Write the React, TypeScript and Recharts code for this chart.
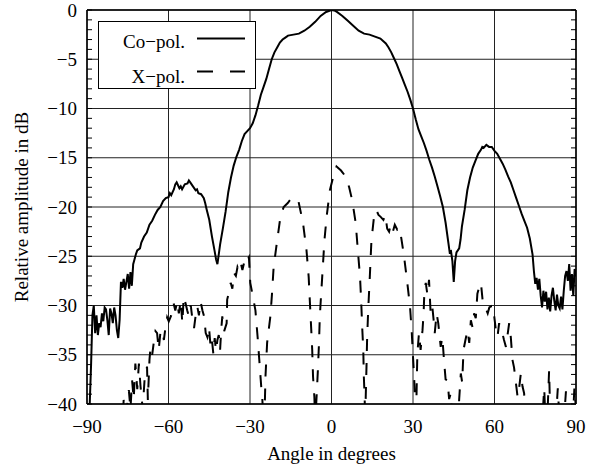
import React from 'react';
import { LineChart, Line, XAxis, YAxis, CartesianGrid, Legend } from 'recharts';

// Co-polar pattern (angle in degrees, relative amplitude in dB)
const coAngles = [
  -90, -89, -88.5, -88, -87.5, -87, -86.5, -86, -85.5, -85, -84.5, -84, -83.5, -83, -82.5, -82,
  -81.5, -81, -80.5, -80, -79.5, -79, -78.5, -78, -77.5, -77, -76.5, -76, -75.5, -75, -74.5, -74,
  -73.5, -73, -72.5, -72, -71.5, -70.5, -70, -69, -68, -67, -66, -65, -64, -63, -62, -61, -60,
  -59.5, -59, -58, -57.5, -57, -56, -55.5, -55, -54, -53, -52.5, -52, -51, -50, -49.5, -49, -48,
  -47, -46.5, -46, -45, -44, -43, -42.5, -42, -41.5, -41, -40, -39, -38.5, -38, -37, -36, -35,
  -34, -33, -32, -31, -30, -29, -28, -27, -26, -25, -24, -23, -22, -21, -20, -19, -18, -17, -16,
  -14, -12, -10, -8, -6, -4, -2, 0, 1, 2, 4, 6, 8, 10, 12, 14, 16, 18, 20, 21, 22, 23, 24, 25, 26,
  27, 28, 29, 30, 31, 32, 33, 34, 35, 36, 37, 38, 39, 40, 41, 42, 43, 43.5, 44, 44.5, 45, 45.5,
  46, 47, 47.5, 48, 49, 50, 51, 52, 53, 54, 55, 55.5, 56, 57, 58, 59, 60, 61, 62, 63, 64, 65, 66,
  67, 68, 69, 70, 71, 72, 73, 74, 74.5, 75, 75.5, 76, 76.5, 77, 77.5, 78, 78.5, 79, 79.5, 80, 80.5,
  81, 81.5, 82, 82.5, 83, 83.5, 84, 84.5, 85, 85.5, 86, 86.5, 87, 87.5, 88, 88.5, 89, 89.5, 90,
];
const coDb = [
  -40, -40, -36, -31, -30, -32.8, -31, -33, -31.8, -32.2, -30.8, -31.6, -30.2, -30.4, -31.5, -33,
  -30.3, -30.8, -31.8, -30.2, -31, -32.5, -33.3, -31.5, -27.6, -28.2, -27.3, -28.4, -27.6, -26.8, -28.3, -26.6,
  -28, -25.8, -25.3, -24.8, -24.4, -24.2, -23.6, -23, -22.6, -21.8, -21.4, -20.8, -20.3, -20, -19.4, -19.1, -19,
  -18.6, -18.8, -18.2, -17.7, -17.5, -18.1, -17.9, -18.2, -17.7, -17.6, -17.3, -17.5, -17.9, -18.3, -18.2, -18.6, -18.7,
  -19.1, -19.6, -20.2, -21.3, -23, -24.5, -25.3, -25.8, -24.8, -23.8, -22.2, -20.5, -19.5, -18.5, -17, -15.8, -14.9,
  -14.2, -13.3, -12.6, -12.3, -12, -11.5, -10.7, -9.7, -8.6, -7.8, -7, -6, -5, -4.3, -3.8, -3.3, -3, -2.8, -2.6,
  -2.5, -2.4, -2.1, -1.7, -1.2, -0.6, -0.2, 0, -0.05, -0.2, -0.6, -1.1, -1.6, -2.1, -2.4, -2.5, -2.7, -2.9, -3.4, -3.8, -4.3, -4.9, -5.5, -6.2, -6.9,
  -7.6, -8.3, -9.1, -10, -11.1, -12.1, -12.8, -13.5, -14.3, -15.2, -16, -16.9, -17.9, -18.9, -20, -21.6, -23.6, -24.6, -24.5, -25.5, -27.6, -25.5,
  -24.6, -24.2, -23.3, -22, -20.3, -18.3, -17, -16, -15.3, -14.6, -14.2, -13.9, -14, -13.7, -13.9, -13.9, -14.3, -14.6, -15.1, -15.6, -16.2, -16.9, -17.5,
  -18.3, -19.1, -19.9, -20.7, -21.4, -22.1, -23.2, -24.8, -26.5, -27.8, -27.2, -28.4, -27.3, -29, -30.2, -28.5, -29.6, -28.6, -30.4, -29.2, -30.6,
  -29, -28.2, -29.5, -30.5, -28.9, -30, -30.3, -29.1, -30.4, -28.5, -27, -26.5, -27.5, -25.8, -28.5, -26.8, -29, -26.3, -27,
];

// Cross-polar pattern (values under -40 dB fall off the plot)
const xAngles = [
  -90, -77, -76.5, -75.5, -74.6, -74, -73.4, -72.8, -72.2, -71.5, -70.9, -70.3, -69.5, -68.8, -67.9,
  -67.6, -67, -66.6, -66, -65.4, -64.8, -64.2, -63.6, -63, -62.3, -61.7, -61.1, -60.5, -59.9, -59,
  -58.1, -57.5, -56.8, -56.2, -55.5, -54.9, -54.4, -53.7, -53.1, -52.5, -51.8, -51.2, -50.6, -50,
  -49.4, -48.8, -48.2, -47.5, -46.9, -46.3, -45.7, -45.1, -44.5, -44, -43.5, -43, -42.5, -42, -41.5,
  -41, -40.6, -40.2, -39.5, -38.6, -38.4, -37.7, -37.1, -36.5, -35.9, -35.2, -34.6, -34, -33.3,
  -32.8, -32.2, -31.5, -31, -30.4, -29.9, -29, -28, -27.2, -26.4, -25.8, -25.5, -25, -24.5, -24.3,
  -23.7, -22.5, -21.9, -21.3, -20, -18.8, -17.6, -16.1, -15, -13.9, -13, -12.1, -10.5, -9.2, -8.4,
  -8, -7.5, -7.1, -6.8, -6.3, -6, -5.5, -5, -4.6, -4.3, -3.8, -3.2, -2.6, -1.8, -0.6, 0.3, 1.85,
  3.5, 5.2, 6.5, 7.6, 8.9, 9.7, 10.5, 10.9, 11.3, 11.7, 11.9, 12.2, 12.4, 12.6, 12.9, 13.1, 13.5,
  14.1, 14.7, 15.8, 16.5, 17.3, 18.1, 19.1, 19.8, 20.5, 21.2, 21.7, 22.5, 23.3, 24.2, 25, 25.6,
  26.7, 27.9, 28.9, 29.5, 30, 30.4, 30.7, 31, 31.3, 31.6, 32.2, 32.8, 33.5, 33.9, 34.2, 34.7, 35.3,
  35.9, 36.5, 37.1, 37.6, 38, 38.7, 39.3, 40.2, 40.8, 41.4, 42, 42.7, 43.3, 43.9, 44.5, 46.5, 47,
  47.6, 48.1, 48.6, 49.3, 50.1, 50.7, 51.3, 51.9, 52.5, 53.1, 53.7, 54.3, 55, 55.6, 56.2, 56.8,
  57.5, 58.1, 58.7, 59.3, 59.9, 60.5, 61.1, 61.7, 62.3, 62.9, 63.5, 64.2, 64.8, 65.4, 66, 66.6,
  67.2, 67.9, 68.5, 69.1, 69.7, 70.3, 70.9, 71.5, 77.5, 78.3, 78.8, 79.5, 80.1, 80.6, 82.5, 83.3,
  84, 85.5, 86.3, 86.8, 88.8, 89.4, 90,
];
const xDb = [
  -42, -42, -39.6, -41, -38.6, -40.5, -37.6, -39.5, -35.9, -38.5, -35.9, -38.2, -40.5, -37.5, -36.2,
  -39.6, -35.5, -34.2, -35, -33.7, -32.6, -32.8, -34.5, -32.8, -32.5, -33.5, -32.2, -31.2, -31.6, -31,
  -29.8, -30.5, -29.6, -30.8, -29.5, -31.8, -29.1, -29.8, -30.5, -31.1, -30, -31.4, -32.3, -31,
  -30.1, -31, -29.6, -30.5, -31.1, -32.8, -33.2, -32.2, -34.2, -33.5, -34.9, -33.3, -34.6, -33.5, -33,
  -34.5, -32.5, -31.1, -32.6, -31.8, -29.4, -28.6, -27.7, -28.3, -26.7, -27, -26.1, -26.5, -25.8,
  -26.4, -25.7, -26, -25.4, -25.1, -27.7, -29, -30.5, -33.2, -36.2, -38.5, -39.3, -42, -39.5, -37.2,
  -33.8, -31.1, -28.8, -26.1, -23.4, -21, -20, -19.6, -19.2, -19, -19.3, -19.5, -21.6, -24.4, -27.1,
  -29.4, -32.2, -34.5, -37.2, -39.3, -42, -39.3, -36.5, -33.8, -31.1, -28.8, -26.1, -23.4, -21, -18.3, -17.3, -15.9,
  -16.3, -16.9, -18, -19.3, -21.6, -24.4, -27.1, -29.4, -32.2, -34.5, -37.2, -39.3, -42, -39.3, -36, -33.5, -30.5,
  -27.1, -23.4, -20.6, -20.3, -20.8, -21, -21.3, -20.8, -22.2, -22.5, -21.9, -22.6, -21.8, -22.3, -22.1, -23,
  -25, -27.7, -30.1, -32.5, -35.2, -37.2, -39.3, -42, -39, -34.9, -32.8, -34.5, -32.5, -30.8, -28.5, -27.7, -28.9,
  -27.4, -30.8, -30.1, -31.5, -32.8, -30.8, -31.8, -34.2, -33.2, -35.5, -37.5, -37.6, -39.5, -38.9, -42, -42, -39.5,
  -36.9, -37.8, -34.5, -33.5, -32.5, -33.8, -31.5, -32.2, -30.8, -31.3, -28.8, -28.2, -27.7, -29.4, -30, -30.3,
  -30.8, -30.2, -30.1, -31.2, -31.1, -32.5, -33.2, -31.8, -32.4, -32.8, -33.5, -34.2, -33, -31.8, -33.2, -35.5,
  -36.3, -37.9, -39.3, -38.3, -36.9, -38.2, -38.9, -42, -42, -38.4, -42, -41, -36.6, -42, -42, -38.4,
  -42, -42, -38.7, -42, -42, -38.4, -40.5,
];

const xMajor = [-90, -60, -30, 0, 30, 60, 90];
const yMajor = [-40, -35, -30, -25, -20, -15, -10, -5, 0];
const xMinor = Array.from({ length: 19 }, (_, i) => -90 + i * 10);
const yMinor = Array.from({ length: 41 }, (_, i) => -40 + i);

const coData = coAngles.map((a, i) => ({ a, db: coDb[i] }));
const xpData = xAngles.map((a, i) => ({ a, db: xDb[i] }));

const FONT = '"Liberation Serif", "Times New Roman", Times, serif';
const fmt = (v: number) => (v < 0 ? '\u2212' + Math.abs(v) : String(v));
const tickStyle = { fill: '#000', fontSize: 19, fontFamily: FONT };
const noLabel = () => <g />;

const YTitle = (props: any) => {
  const vb = props.viewBox || { x: 27, y: 10, width: 60, height: 394 };
  const cx = vb.x + 1;
  const cy = vb.y + vb.height / 2;
  return (
    <text x={cx} y={cy} transform={`rotate(-90, ${cx}, ${cy})`} textAnchor="middle"
      fill="#000" fontSize={19} fontFamily={FONT}>
      Relative amplitude in dB
    </text>
  );
};

const LegendBox = () => (
  <svg width={158} height={68} style={{ display: 'block' }}>
    <rect x={0.5} y={0.5} width={157} height={67} fill="#fff" stroke="#000" strokeWidth={1} />
    <text x={87} y={26.5} textAnchor="end" fontSize={19} fontFamily={FONT} fill="#000">Co−pol.</text>
    <line x1={99} x2={147} y1={17.5} y2={17.5} stroke="#000" strokeWidth={2} />
    <text x={87} y={62} textAnchor="end" fontSize={19} fontFamily={FONT} fill="#000">X−pol.</text>
    <line x1={99} x2={147} y1={50.5} y2={50.5} stroke="#000" strokeWidth={2} strokeDasharray="16 17" />
  </svg>
);

export default function App() {
  return (
    <div style={{ position: 'absolute', left: 0, top: 0, width: 597, height: 466, background: '#fff', fontFamily: FONT }}>
      <LineChart width={597} height={466} margin={{ top: 10, right: 21, bottom: 0, left: 27 }}>
        <CartesianGrid stroke="#222" strokeWidth={1} />
        <XAxis type="number" dataKey="a" domain={[-90, 90]} ticks={xMajor} interval={0}
          tickFormatter={fmt} tickLine={false} tickSize={0} tickMargin={16} height={62}
          axisLine={{ stroke: '#000', strokeWidth: 1.5 }} tick={tickStyle} allowDataOverflow
          label={{ value: 'Angle in degrees', position: 'insideBottom', offset: 6, fill: '#000', fontSize: 19, fontFamily: FONT }} />
        <YAxis type="number" domain={[-40, 0]} ticks={yMajor} interval={0} width={60}
          tickFormatter={fmt} tickLine={false} tickSize={0} tickMargin={10}
          axisLine={{ stroke: '#000', strokeWidth: 1.5 }} tick={tickStyle} allowDataOverflow
          label={YTitle} />
        <XAxis xAxisId="bm" type="number" domain={[-90, 90]} ticks={xMinor} interval={0} allowDataOverflow
          orientation="bottom" mirror height={5} tick={noLabel} tickSize={5} tickLine={{ stroke: '#000' }} axisLine={false} />
        <XAxis xAxisId="tm" type="number" domain={[-90, 90]} ticks={xMinor} interval={0} allowDataOverflow
          orientation="top" mirror height={5} tick={noLabel} tickSize={5} tickLine={{ stroke: '#000' }}
          axisLine={{ stroke: '#000', strokeWidth: 1.5 }} />
        <YAxis yAxisId="lm" type="number" domain={[-40, 0]} ticks={yMinor} interval={0} allowDataOverflow
          orientation="left" mirror width={5} tick={noLabel} tickSize={5} tickLine={{ stroke: '#000' }} axisLine={false} />
        <YAxis yAxisId="rm" type="number" domain={[-40, 0]} ticks={yMinor} interval={0} allowDataOverflow
          orientation="right" mirror width={5} tick={noLabel} tickSize={5} tickLine={{ stroke: '#000' }}
          axisLine={{ stroke: '#000', strokeWidth: 1.5 }} />
        <Legend layout="vertical" align="center" verticalAlign="middle"
          wrapperStyle={{ left: 98, top: 21, width: 158, height: 68 }} content={LegendBox} />
        <Line data={coData} dataKey="db" name="Co−pol." type="linear" stroke="#000" strokeWidth={2}
          dot={false} activeDot={false} isAnimationActive={false} />
        <Line data={xpData} dataKey="db" name="X−pol." type="linear" stroke="#000" strokeWidth={2}
          strokeDasharray="12 12" dot={false} activeDot={false} isAnimationActive={false} />
      </LineChart>
    </div>
  );
}
